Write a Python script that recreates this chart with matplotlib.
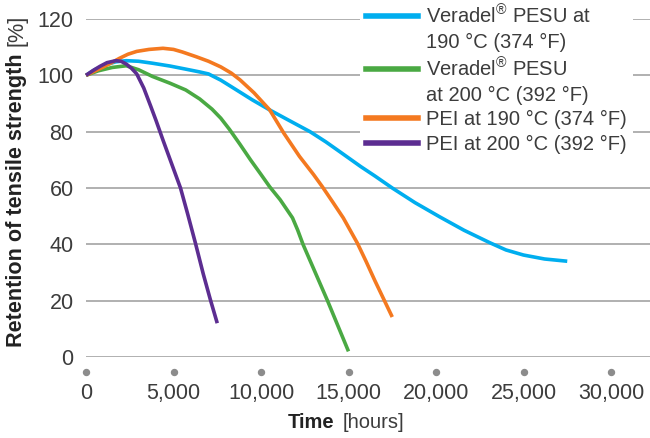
import numpy as np
import matplotlib.pyplot as plt
from matplotlib.lines import Line2D

plt.rcParams['font.family'] = ['Liberation Sans', 'DejaVu Sans']
plt.rcParams['mathtext.fontset'] = 'custom'
plt.rcParams['mathtext.rm'] = 'Liberation Sans'

# dados (horas, % de retencao)
pesu190_t = [0, 500, 1100, 1700, 2300, 3000, 3800, 4800, 5700, 6500, 7000, 7700, 8500, 9500, 10500,
			11600, 12800, 13700, 14500, 15700, 16500, 17500, 18800, 20200, 21600, 23100, 24000, 25000, 26200, 27500]
pesu190_v = [100, 102, 103.7, 104.8, 105.2, 105, 104.3, 103.3, 102.2, 101.2, 100.5, 98.3, 95.2, 91.3, 87.7,
			84, 80, 76.4, 72.9, 67.6, 64.3, 60, 54.8, 49.8, 45, 40.5, 38, 36.2, 34.8, 34]

pesu200_t = [0, 700, 1500, 2300, 3000, 3800, 4800, 5700, 6500, 7200, 7700, 8200, 8800, 9400, 10000,
			10500, 11100, 11800, 12100, 12400, 13100, 13800, 14400, 15000]
pesu200_v = [100, 101.6, 102.8, 103.4, 102, 99.6, 97.2, 94.8, 91.6, 88, 84.8, 80.8, 75.5, 70, 64.8,
			60.4, 55.8, 49.4, 45, 40, 30, 20, 11, 2]

pei190_t = [0, 500, 1000, 1500, 1900, 2400, 2900, 3600, 4400, 5000, 5500, 6300, 7000, 7700, 8300, 8800,
			9600, 10500, 11300, 12200, 13000, 13500, 14100, 14700, 15500, 16000, 16500, 17000, 17500]
pei190_v = [100, 101.5, 103, 104.6, 106, 107.5, 108.5, 109.2, 109.6, 109.2, 108.3, 106.6, 105, 103, 100.8, 98.4,
			93.8, 87.7, 79.5, 71.2, 64.8, 60.5, 55, 49.4, 40.5, 34, 27.2, 20.7, 14.2]

pei200_t = [0, 400, 800, 1200, 1700, 2000, 2300, 2600, 2900, 3300, 3700, 4000, 4400, 4900, 5400, 5800,
			6250, 6700, 7100, 7500]
pei200_v = [100, 101.7, 103.2, 104.5, 105.2, 105, 104, 102.5, 100.5, 95.5, 89, 84, 77, 68.5, 60, 51,
			40.5, 29.5, 20.5, 12]

series_labels = [["Veradel$^{®}$ PESU at", "190 °C (374 °F)"],
				["Veradel$^{®}$ PESU", "at 200 °C (392 °F)"],
				["PEI at 190 °C (374 °F)"],
				["PEI at 200 °C (392 °F)"]]
cores = ['#00aeef', '#4aa943', '#f47920', '#5c2d91']

xticks = [0, 5000, 10000, 15000, 20000, 25000, 30000]
xticklabels = ['0', '5,000', '10,000', '15,000', '20,000', '25,000', '30,000']
yticks = [0, 20, 40, 60, 80, 100, 120]

texto = '#3c3c3c'

fig = plt.figure(figsize=(6.5, 4.38), dpi=100)
ax = fig.add_axes([86/650, 1-357/438, 1-86/650, (357-19)/438])

dados = [(pesu190_t, pesu190_v), (pesu200_t, pesu200_v), (pei190_t, pei190_v), (pei200_t, pei200_v)]
linhas = []
for (t, v), c in zip(dados, cores):
	l, = ax.plot(t, v, color=c, lw=2.6, solid_capstyle='butt', solid_joinstyle='round', clip_on=False, zorder=3)
	linhas.append(l)

ax.set_xlim(0, 30000*(650-86)/(611-86))
ax.set_ylim(0, 120)
for s in ax.spines.values():
	s.set_visible(False)
ax.set_yticks(yticks)
ax.yaxis.grid(True, color='#9b9b9b', lw=1.1)
ax.set_axisbelow(True)
ax.set_xticks(xticks)
ax.set_xticklabels(xticklabels)
ax.tick_params(axis='both', length=0, labelsize=15.5, labelcolor=texto)
ax.tick_params(axis='y', pad=9)
ax.tick_params(axis='x', pad=19)

# pontinhos no lugar das marcas do eixo x
ax.plot(xticks, np.full(len(xticks), -5.3), 'o', ms=4.3, color='#8c8c8c', clip_on=False, zorder=4)

# legenda: segunda linha do rotulo sem simbolo
handles = []
nomes = []
for l, lab in zip(linhas, series_labels):
	handles.append(Line2D([], [], color=l.get_color(), lw=4))
	nomes.append(lab[0])
	for extra in lab[1:]:
		handles.append(Line2D([], [], color='none'))
		nomes.append(extra)
leg = fig.legend(handles, nomes, loc='upper left', bbox_to_anchor=(360/650, 1.005), frameon=True,
		facecolor='white', edgecolor='none', framealpha=1, fontsize=14.5, handlelength=2.6,
		handletextpad=0.4, labelspacing=0.27, borderpad=0.3, borderaxespad=0)
for t in leg.get_texts():
	t.set_color(texto)

# rotulos dos eixos com parte em negrito
fig.text(288/650, 1-423/438, 'Time', fontsize=14.5, fontweight='bold', color='#222222', ha='left', va='center')
fig.text(343/650, 1-423/438, '[hours]', fontsize=14.5, color=texto, ha='left', va='center')
fig.text(17/650, 1-347/438, 'Retention of tensile strength', fontsize=15.6, fontweight='bold', color='#222222',
		rotation=90, ha='center', va='bottom')
fig.text(17/650, 1-46/438, '[%]', fontsize=15.6, color=texto, rotation=90, ha='center', va='bottom')

plt.savefig('out.png', dpi=100)
